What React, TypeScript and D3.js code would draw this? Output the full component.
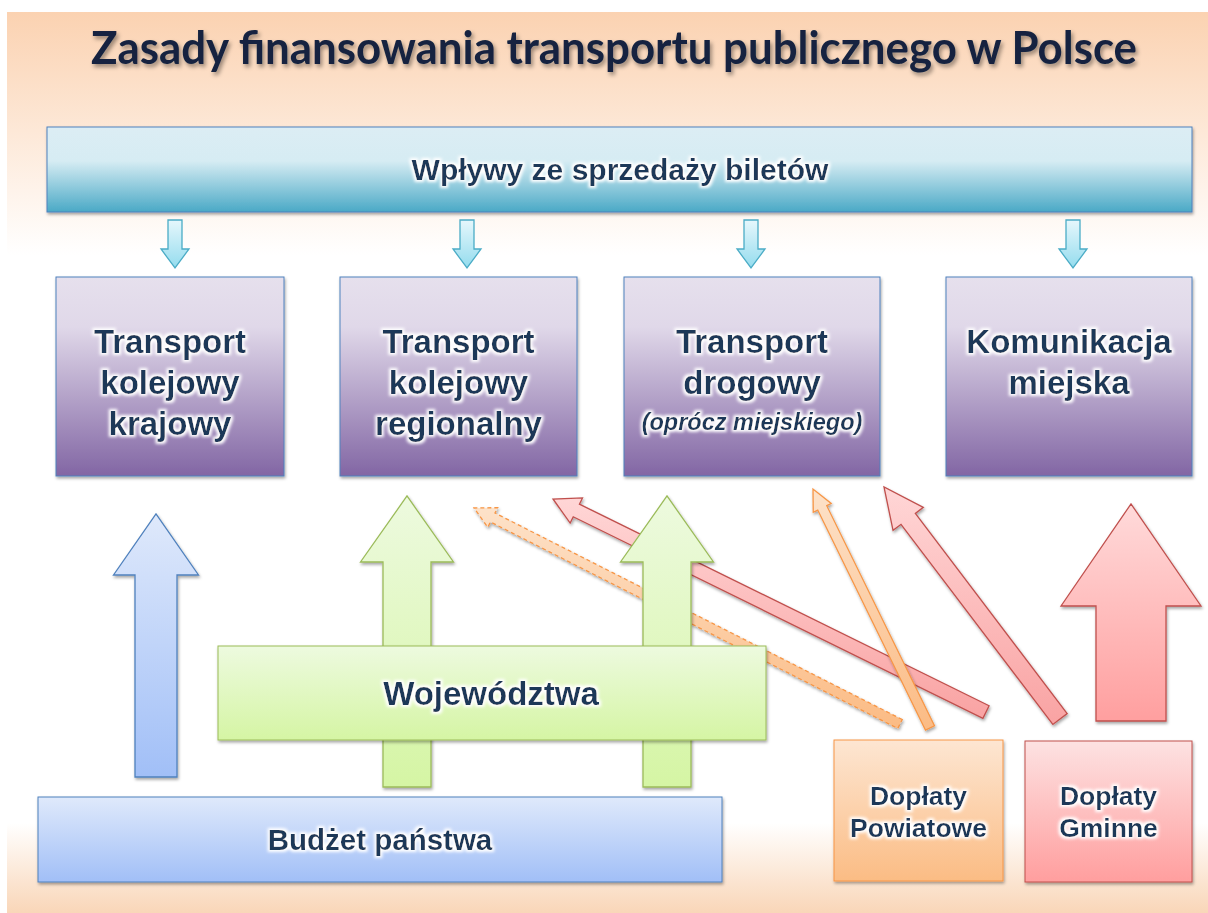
import React from 'react';
import * as d3 from 'd3';

const W = 1208;
const H = 913;

// texts
const titleText = 'Zasady finansowania transportu publicznego w Polsce';
const ticketLabel = 'Wpływy ze sprzedaży biletów';
const targetLines = [
  ['Transport', 'kolejowy', 'krajowy'],
  ['Transport', 'kolejowy', 'regionalny'],
  ['Transport', 'drogowy'],
  ['Komunikacja', 'miejska'],
];
const targetNotes = ['', '', '(oprócz miejskiego)', ''];
const voivodeshipLabel = 'Województwa';
const budgetLabel = 'Budżet państwa';
const countyLines = ['Dopłaty', 'Powiatowe'];
const communeLines = ['Dopłaty', 'Gminne'];

// layout
const targetSpans = [[56, 284], [340, 577], [624, 880], [946, 1192]];
const feedArrowX = [175, 467, 751, 1073];
const targetTop = 277;
const targetBottom = 476;

type Pt = [number, number];

// arrow outline from tail to tip
function arrowPoints(tail: Pt, tip: Pt, w: number, h: number, L: number): Pt[] {
  const dx = tip[0] - tail[0];
  const dy = tip[1] - tail[1];
  const len = Math.hypot(dx, dy);
  const ux = dx / len, uy = dy / len;
  const nx = -uy, ny = ux;
  const bx = tip[0] - ux * L, by = tip[1] - uy * L;
  return [
    [tail[0] + nx * w, tail[1] + ny * w],
    [bx + nx * w, by + ny * w],
    [bx + nx * h, by + ny * h],
    tip,
    [bx - nx * h, by - ny * h],
    [bx - nx * w, by - ny * w],
    [tail[0] - nx * w, tail[1] - ny * w],
  ];
}

const line = d3.line<Pt>().curve(d3.curveLinearClosed);

function Arrow(props: { tail: Pt; tip: Pt; w: number; h: number; L: number; fill: string; stroke: string; dash?: string; shadow?: boolean }) {
  const { tail, tip, w, h, L, fill, stroke, dash, shadow } = props;
  return (
    <path
      d={line(arrowPoints(tail, tip, w, h, L)) || ''}
      fill={fill}
      stroke={stroke}
      strokeWidth={1.3}
      strokeDasharray={dash}
      strokeLinejoin="miter"
      filter={shadow === false ? undefined : 'url(#shadow)'}
    />
  );
}

function Grad(props: { id: string; stops: [number, string][] }) {
  return (
    <linearGradient id={props.id} x1="0" y1="0" x2="0" y2="1">
      {props.stops.map(([o, c], i) => (
        <stop key={i} offset={o} stopColor={c} />
      ))}
    </linearGradient>
  );
}

const textColor = '#1f3759';
const boxFont = '"Liberation Sans", Arial, sans-serif';

export default function App() {
  return (
    <svg width={W} height={H} style={{ position: 'absolute', left: 0, top: 0 }}>
      <defs>
        <Grad id="bg" stops={[[0, '#fbd2b1'], [0.27, '#ffffff'], [0.9, '#ffffff'], [1, '#f9d6b8']]} />
        <Grad id="cyan" stops={[[0, '#dcedf4'], [0.4, '#d6ecf3'], [1, '#4aa9c6']]} />
        <Grad id="cyanArrow" stops={[[0, '#e6f7fc'], [1, '#94dcee']]} />
        <Grad id="purple" stops={[[0, '#e6e0ed'], [0.25, '#e0d8e9'], [1, '#8266a4']]} />
        <Grad id="green" stops={[[0, '#edfadf'], [1, '#d5f5a4']]} />
        <Grad id="blue" stops={[[0, '#dfe9fb'], [1, '#a1bff7']]} />
        <Grad id="orange" stops={[[0, '#fde6d2'], [1, '#fbbc84']]} />
        <Grad id="pink" stops={[[0, '#fde2e2'], [1, '#ff9e9e']]} />
        <Grad id="redArrow" stops={[[0, '#ffdada'], [1, '#ff9f9f']]} />
        <Grad id="redDiag" stops={[[0, '#ffd6d6'], [1, '#f9a3a3']]} />
        <Grad id="orangeDiag" stops={[[0, '#fde2c9'], [1, '#fbbb84']]} />
        <filter id="shadow" x="-10%" y="-10%" width="120%" height="130%">
          <feDropShadow dx="1" dy="2" stdDeviation="1.5" floodColor="#000" floodOpacity="0.35" />
        </filter>
        <filter id="titleShadow" x="-5%" y="-40%" width="110%" height="190%">
          <feDropShadow dx="2" dy="3" stdDeviation="2" floodColor="#000" floodOpacity="0.4" />
        </filter>
        <filter id="glow" x="-10%" y="-30%" width="120%" height="160%">
          <feMorphology in="SourceAlpha" operator="dilate" radius="2" result="d" />
          <feGaussianBlur in="d" stdDeviation="1.8" result="b" />
          <feFlood floodColor="#ffffff" floodOpacity="1" />
          <feComposite in2="b" operator="in" result="g" />
          <feMerge>
            <feMergeNode in="g" />
            <feMergeNode in="SourceGraphic" />
          </feMerge>
        </filter>
      </defs>

      <rect x={0} y={0} width={W} height={H} fill="#fff" />
      <rect x={7} y={12} width={W - 7} height={H - 12} fill="url(#bg)" />

      <text
        x={614}
        y={64}
        textAnchor="middle"
        fontFamily="Lato, 'Open Sans', sans-serif"
        fontWeight="bold"
        fontSize={45}
        fill="#14243f"
        textLength={1046}
        lengthAdjust="spacingAndGlyphs"
        filter="url(#titleShadow)"
      >
        {titleText}
      </text>

      {/* ticket revenue */}
      <rect x={47} y={127} width={1145} height={85} fill="url(#cyan)" stroke="#4f81bd" strokeWidth={1} filter="url(#shadow)" />
      <text x={620} y={180} textAnchor="middle" fontFamily={boxFont} fontWeight="bold" fontSize={30} fill={textColor} filter="url(#glow)">
        {ticketLabel}
      </text>

      {feedArrowX.map((cx, i) => (
        <Arrow key={i} tail={[cx, 220]} tip={[cx, 268]} w={7} h={14} L={19} fill="url(#cyanArrow)" stroke="#4bacc6" shadow={false} />
      ))}

      {targetSpans.map(([a, b], i) => {
        const cx = (a + b) / 2;
        return (
          <g key={i}>
            <rect x={a} y={targetTop} width={b - a} height={targetBottom - targetTop} fill="url(#purple)" stroke="#4f81bd" strokeWidth={1} filter="url(#shadow)" />
            <g filter="url(#glow)">
              {targetLines[i].map((t, j) => (
                <text key={j} x={cx} y={353 + j * 41} textAnchor="middle" fontFamily={boxFont} fontWeight="bold" fontSize={33} fill={textColor}>
                  {t}
                </text>
              ))}
              {targetNotes[i] && (
                <text x={cx} y={430} textAnchor="middle" fontFamily={boxFont} fontWeight="bold" fontStyle="italic" fontSize={23.5} fill={textColor}>
                  {targetNotes[i]}
                </text>
              )}
            </g>
          </g>
        );
      })}

      {/* diagonal subsidy arrows */}
      <Arrow tail={[900, 724]} tip={[474, 508]} w={5} h={11} L={21} fill="url(#orangeDiag)" stroke="#f79646" dash="4,3" />
      <Arrow tail={[986, 712]} tip={[553, 499]} w={7} h={14} L={26} fill="url(#redDiag)" stroke="#c0504d" />
      <Arrow tail={[930, 728]} tip={[813, 489]} w={5} h={10} L={21} fill="url(#orangeDiag)" stroke="#f79646" />
      <Arrow tail={[1060, 719]} tip={[884, 487]} w={9} h={19} L={40} fill="url(#redDiag)" stroke="#c0504d" />

      {/* vertical arrows */}
      <Arrow tail={[156, 777]} tip={[156, 514]} w={21} h={42.5} L={61} fill="url(#blue)" stroke="#4f81bd" />
      <Arrow tail={[407, 787]} tip={[407, 496]} w={24} h={46.5} L={66} fill="url(#green)" stroke="#9bbb59" />
      <Arrow tail={[667, 787]} tip={[667, 496]} w={24} h={46.5} L={66} fill="url(#green)" stroke="#9bbb59" />
      <Arrow tail={[1131, 721]} tip={[1131, 504]} w={35} h={70} L={102} fill="url(#redArrow)" stroke="#c0504d" />

      {/* voivodeships */}
      <rect x={218} y={646} width={548} height={94} fill="url(#green)" stroke="#9bbb59" strokeWidth={1} filter="url(#shadow)" />
      <text x={491} y={705} textAnchor="middle" fontFamily={boxFont} fontWeight="bold" fontSize={33} fill={textColor} filter="url(#glow)">
        {voivodeshipLabel}
      </text>

      {/* state budget */}
      <rect x={38} y={797} width={684} height={85} fill="url(#blue)" stroke="#4f81bd" strokeWidth={1} filter="url(#shadow)" />
      <text x={380} y={850} textAnchor="middle" fontFamily={boxFont} fontWeight="bold" fontSize={29.5} fill={textColor} filter="url(#glow)">
        {budgetLabel}
      </text>

      {/* county subsidies */}
      <rect x={834} y={740} width={169} height={141} fill="url(#orange)" stroke="#f79646" strokeWidth={1} filter="url(#shadow)" />
      <g filter="url(#glow)">
        {countyLines.map((t, j) => (
          <text key={j} x={918.5} y={805 + j * 32} textAnchor="middle" fontFamily={boxFont} fontWeight="bold" fontSize={26.5} fill={textColor}>
            {t}
          </text>
        ))}
      </g>

      {/* commune subsidies */}
      <rect x={1025} y={741} width={167} height={141} fill="url(#pink)" stroke="#c0504d" strokeWidth={1} filter="url(#shadow)" />
      <g filter="url(#glow)">
        {communeLines.map((t, j) => (
          <text key={j} x={1108.5} y={805 + j * 32} textAnchor="middle" fontFamily={boxFont} fontWeight="bold" fontSize={26.5} fill={textColor}>
            {t}
          </text>
        ))}
      </g>
    </svg>
  );
}
